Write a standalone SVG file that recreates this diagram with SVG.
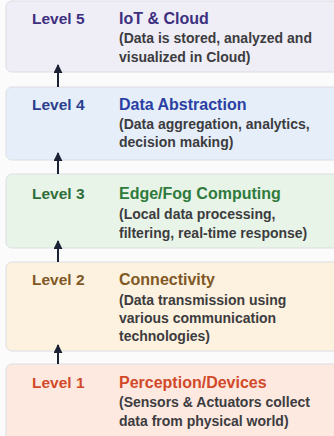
<svg xmlns="http://www.w3.org/2000/svg" width="334" height="436" viewBox="0 0 334 436">
<defs>
<style>
.box{stroke:#dcdde3;stroke-width:1}
.lvl{font-family:"Liberation Sans",Arial,sans-serif;font-weight:bold;font-size:15.5px}
.ttl{font-family:"Liberation Sans",Arial,sans-serif;font-weight:bold;font-size:16px}
.dsc{font-family:"Liberation Sans",Arial,sans-serif;font-weight:bold;font-size:14px;fill:#3c3c40}
.arr{stroke:#1b2236;stroke-width:2;fill:none}
</style>
<marker id="ah" viewBox="0 0 10 10" refX="9" refY="5" markerWidth="4.5" markerHeight="4.5" orient="auto" markerUnits="strokeWidth">
<path d="M0,0 L10,5 L0,10 Z" fill="#1b2236"/>
</marker>
</defs>
<rect x="0" y="0" width="334" height="436" fill="#fbfbfc"/>
<g id="level5">
<rect class="box" x="6" y="1" width="340" height="71" rx="6" fill="#efedf6"/>
<text class="lvl" x="32" y="24" fill="#3d3080">Level 5</text>
<text class="ttl" x="119" y="24" fill="#3d3080">IoT &amp; Cloud</text>
<text class="dsc" x="119" y="43">(Data is stored, analyzed and</text>
<text class="dsc" x="119" y="62">visualized in Cloud)</text>
</g>
<g id="level4">
<rect class="box" x="6" y="87" width="340" height="73" rx="6" fill="#e6eff9"/>
<text class="lvl" x="32" y="110" fill="#2b3f8f">Level 4</text>
<text class="ttl" x="119" y="110" fill="#2a3fa3">Data Abstraction</text>
<text class="dsc" x="119" y="129">(Data aggregation, analytics,</text>
<text class="dsc" x="119" y="147">decision making)</text>
</g>
<g id="level3">
<rect class="box" x="6" y="174" width="340" height="74" rx="6" fill="#e9f4e8"/>
<text class="lvl" x="32" y="199" fill="#2f6e3a">Level 3</text>
<text class="ttl" x="119" y="199" fill="#2f7a3c">Edge/Fog Computing</text>
<text class="dsc" x="119" y="219">(Local data processing,</text>
<text class="dsc" x="119" y="238">filtering, real-time response)</text>
</g>
<g id="level2">
<rect class="box" x="6" y="262" width="340" height="89" rx="6" fill="#fdf2df"/>
<text class="lvl" x="32" y="285" fill="#7f5826">Level 2</text>
<text class="ttl" x="119" y="285" fill="#7f5826">Connectivity</text>
<text class="dsc" x="119" y="305">(Data transmission using</text>
<text class="dsc" x="119" y="323">various communication</text>
<text class="dsc" x="119" y="341">technologies)</text>
</g>
<g id="level1">
<rect class="box" x="6" y="364" width="340" height="80" rx="6" fill="#fde9e0"/>
<text class="lvl" x="32" y="388" fill="#d2492a">Level 1</text>
<text class="ttl" x="119" y="388" fill="#d2492a">Perception/Devices</text>
<text class="dsc" x="119" y="407">(Sensors &amp; Actuators collect</text>
<text class="dsc" x="119" y="426">data from physical world)</text>
</g>
<g id="connectors">
<line class="arr" x1="58" y1="87" x2="58" y2="65" marker-end="url(#ah)"/>
<line class="arr" x1="58" y1="174" x2="58" y2="153" marker-end="url(#ah)"/>
<line class="arr" x1="58" y1="262" x2="58" y2="241" marker-end="url(#ah)"/>
<line class="arr" x1="58" y1="364" x2="58" y2="345" marker-end="url(#ah)"/>
</g>
</svg>
